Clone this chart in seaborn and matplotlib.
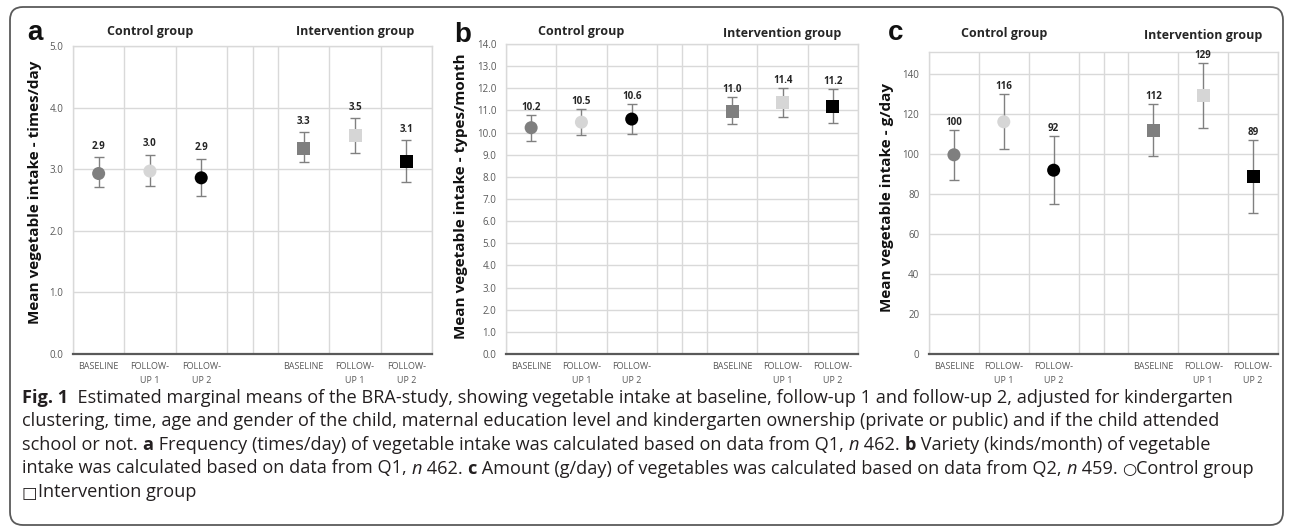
import numpy as np
import pandas as pd
import matplotlib
matplotlib.use("Agg")
import matplotlib.pyplot as plt
import matplotlib.transforms as mtransforms
from matplotlib.patches import FancyBboxPatch
import seaborn as sns

# ---- data ----
time_points = ["BASELINE", "FOLLOW-\nUP 1", "FOLLOW-\nUP 2"]
groups = ["Control group", "Intervention group"]

# a: frequency, times/day
freq_mean = [2.93, 2.97, 2.86, 3.34, 3.54, 3.13]
freq_low = [2.71, 2.73, 2.56, 3.11, 3.26, 2.79]
freq_high = [3.19, 3.23, 3.17, 3.60, 3.83, 3.47]

# b: variety, types/month
var_mean = [10.22, 10.47, 10.61, 10.96, 11.36, 11.19]
var_low = [9.63, 9.89, 9.92, 10.37, 10.69, 10.42]
var_high = [10.79, 11.07, 11.28, 11.62, 12.00, 11.97]

# c: amount, g/day
amt_mean = [99.6, 116.1, 91.9, 111.9, 129.2, 88.6]
amt_low = [86.9, 102.3, 74.8, 99.2, 112.8, 70.3]
amt_high = [111.9, 130.2, 108.8, 124.8, 145.4, 107.1]

W, H = 1293, 532
sns.set_style("white")
plt.rcParams["font.family"] = ["Open Sans", "DejaVu Sans"]

grid_c = "#d9d9d9"
tick_c = "#595959"
palette = {time_points[0]: "#7f7f7f", time_points[1]: "#d6d6d6", time_points[2]: "#000000"}


def make_df(mean, low, high):
    rows = []
    for gi, g in enumerate(groups):
        for ti, t in enumerate(time_points):
            i = gi * 3 + ti
            rows.append({"group": g, "time": t, "slot": gi * 4 + ti,
                         "mean": mean[i], "low": low[i], "high": high[i]})
    return pd.DataFrame(rows)


def px(x, y):
    return x / W, 1 - y / H


panels = [
    dict(letter="a", df=make_df(freq_mean, freq_low, freq_high),
         ylabel="Mean vegetable intake - times/day", ylim=(0, 5), yticks=np.arange(0, 5.01, 1.0), dec=1,
         box=(73, 46, 432, 354), letter_xy=(35, 40), ylab_xy=(35, 192), title_y=(32, 32), lab_off=4),
    dict(letter="b", df=make_df(var_mean, var_low, var_high),
         ylabel="Mean vegetable intake - types/month", ylim=(0, 14), yticks=np.arange(0, 14.01, 1.0), dec=1,
         box=(506, 44, 858, 354), letter_xy=(463, 42), ylab_xy=(461, 196), title_y=(32, 33), lab_off=1.5),
    dict(letter="c", df=make_df(amt_mean, amt_low, amt_high),
         ylabel="Mean vegetable intake - g/day", ylim=(0, 151), yticks=np.arange(0, 141, 20), dec=0,
         box=(929, 52, 1278, 354), letter_xy=(896, 40), ylab_xy=(887, 198), title_y=(33, 36), lab_off=1.5),
]

fig = plt.figure(figsize=(W / 100, H / 100), dpi=100)

for p in panels:
    x0, y0, x1, y1 = p["box"]
    ax = fig.add_axes([x0 / W, 1 - y1 / H, (x1 - x0) / W, (y1 - y0) / H])
    df = p["df"]

    ax.errorbar(df["slot"], df["mean"], yerr=[df["mean"] - df["low"], df["high"] - df["mean"]],
                fmt="none", ecolor="#808080", elinewidth=1.0, capsize=3.5, capthick=1.0, zorder=2)
    sns.scatterplot(data=df, x="slot", y="mean", hue="time", style="group",
                    markers={groups[0]: "o", groups[1]: "s"}, palette=palette,
                    s=88, linewidth=0, legend=False, ax=ax, zorder=3)

    for _, r in df.iterrows():
        ax.annotate(f"{r['mean']:.{p['dec']}f}", xy=(r["slot"], r["high"]),
                    xytext=(0, p["lab_off"]), textcoords="offset points",
                    ha="center", va="bottom", fontsize=7, fontweight="bold", color="#262626")

    ax.set_xlim(-0.5, 6.5)
    ax.set_ylim(*p["ylim"])
    ax.set_yticks(p["yticks"])
    ax.set_yticklabels([f"{v:.{p['dec']}f}" for v in p["yticks"]], fontsize=7, color=tick_c)
    ax.set_xticks(df["slot"])
    ax.set_xticklabels(df["time"], fontsize=6.5, color=tick_c, linespacing=1.6)
    ax.set_xticks(np.arange(-0.5, 6.51, 0.5), minor=True)
    ax.tick_params(axis="both", which="both", length=0)
    ax.tick_params(axis="y", pad=7)
    ax.tick_params(axis="x", pad=6)
    ax.grid(axis="x", which="minor", color=grid_c, lw=1.0)
    ax.grid(axis="y", which="major", color=grid_c, lw=1.0)
    ax.set_axisbelow(True)
    for side in ["left", "right", "top"]:
        ax.spines[side].set_color(grid_c)
        ax.spines[side].set_linewidth(1.0)
    ax.spines["bottom"].set_color("#595959")
    ax.spines["bottom"].set_linewidth(1.6)
    ax.set_xlabel("")
    ax.set_ylabel("")

    # group headers centred over the middle time point of each group
    trans = mtransforms.blended_transform_factory(ax.transData, fig.transFigure)
    for gi, g in enumerate(groups):
        mid = df.loc[(df["group"] == g) & (df["time"] == time_points[1]), "slot"].iloc[0]
        ax.text(mid, 1 - p["title_y"][gi] / H, g, transform=trans, ha="center", va="center",
                fontsize=9, fontweight="bold", color="#262626")

    lx, ly = px(*p["letter_xy"])
    fig.text(lx, ly, p["letter"], ha="center", va="baseline", fontsize=20, fontweight="bold",
             family="Liberation Sans", color="#111111")
    yx, yy = px(*p["ylab_xy"])
    fig.text(yx, yy, p["ylabel"], rotation=90, ha="center", va="center", fontsize=11,
             fontweight="bold", color="#111111")

# ---- caption ----
renderer = fig.canvas.get_renderer()
cap_fs = 13.1
cap_c = "#231f20"


def seg_kw(style):
    kw = dict(fontsize=cap_fs, color=cap_c)
    if style == "b":
        kw["fontweight"] = "bold"
    elif style == "i":
        kw["fontstyle"] = "italic"
    elif style == "sym":
        kw["fontsize"] = cap_fs * 0.9
    return kw


def advance(s, kw):
    a = fig.text(0, 0, s + "|", **kw)
    b = fig.text(0, 0, "|", **kw)
    w = a.get_window_extent(renderer).width - b.get_window_extent(renderer).width
    a.remove()
    b.remove()
    return w


caption = [
    [("Fig. 1", "b"), ("  Estimated marginal means of the BRA-study, showing vegetable intake at baseline, "
                       "follow-up 1 and follow-up 2, adjusted for kindergarten", "r")],
    [("clustering, time, age and gender of the child, maternal education level and kindergarten "
      "ownership (private or public) and if the child attended", "r")],
    [("school or not. ", "r"), ("a", "b"),
     (" Frequency (times/day) of vegetable intake was calculated based on data from Q1, ", "r"),
     ("n", "i"), (" 462. ", "r"), ("b", "b"), (" Variety (kinds/month) of vegetable", "r")],
    [("intake was calculated based on data from Q1, ", "r"), ("n", "i"), (" 462. ", "r"), ("c", "b"),
     (" Amount (g/day) of vegetables was calculated based on data from Q2, ", "r"), ("n", "i"),
     (" 459. ", "r"), ("\u25cb", "sym"), ("Control group", "r")],
    [("\u25a1", "sym"), ("Intervention group", "r")],
]
baselines = [403, 426.5, 450, 473.5, 497]

for line, base in zip(caption, baselines):
    x = 22
    for s, style in line:
        kw = seg_kw(style)
        fx, fy = px(x, base)
        fig.text(fx, fy, s, ha="left", va="baseline", **kw)
        x += advance(s, kw)

# rounded frame round the whole figure (pixel coordinates)
frame = FancyBboxPatch((10, H - 525), W - 20, 518, boxstyle="round,pad=0,rounding_size=13",
                       transform=mtransforms.IdentityTransform(), fill=False,
                       edgecolor="#5a5a5a", linewidth=1.3)
fig.add_artist(frame)

fig.savefig("out.png", dpi=100)
